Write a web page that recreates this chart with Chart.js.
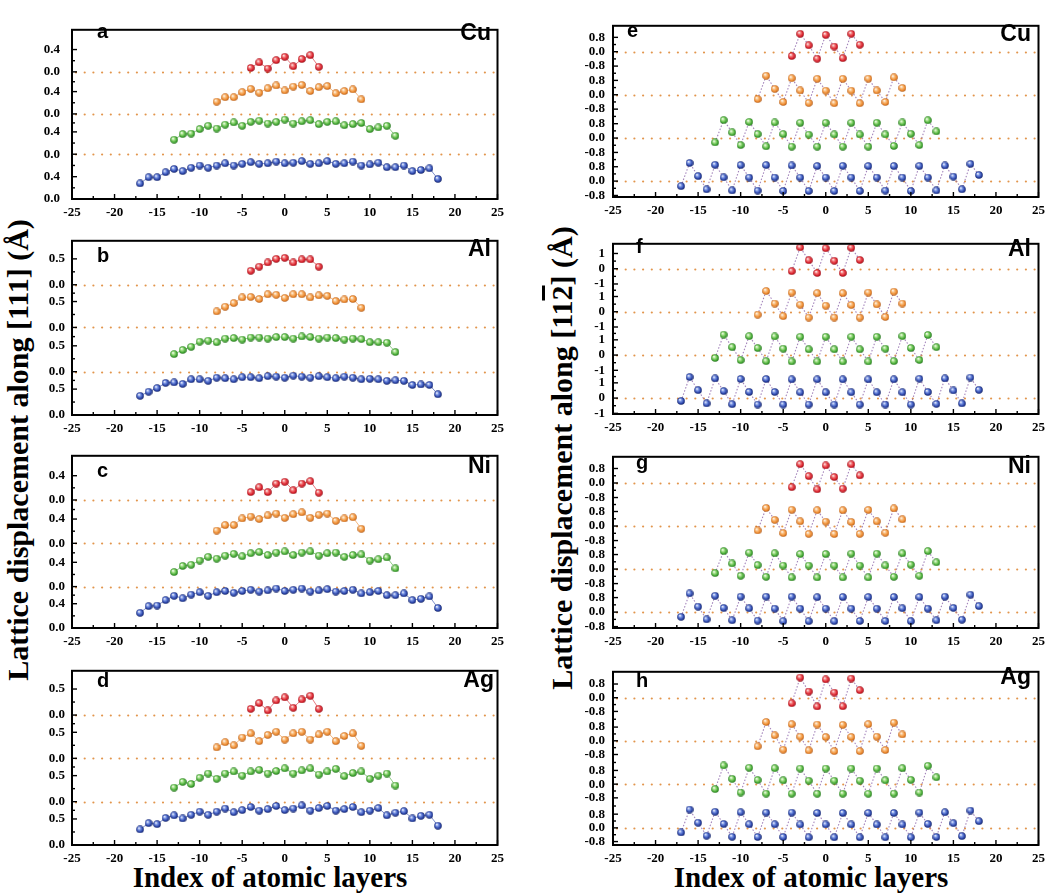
<!DOCTYPE html>
<html><head><meta charset="utf-8">
<script src="https://cdn.jsdelivr.net/npm/chart.js@4.4.1/dist/chart.umd.min.js"></script>
<style>
body{margin:0;background:#fff;}
#wrap{position:relative;width:1054px;height:895px;overflow:hidden;background:#fff;}
#wrap canvas{position:absolute;}
.t{position:absolute;font-family:"Liberation Serif","Times New Roman",serif;font-weight:bold;color:#000;white-space:nowrap;line-height:1;}
.lab{position:absolute;font-family:"Liberation Sans",Arial,sans-serif;font-weight:bold;color:#000;white-space:nowrap;line-height:1;}
</style></head><body><div id="wrap">
<div class="t" style="font-size:30px;left:18px;top:450px;transform:translate(-50%,-50%) rotate(-90deg);">Lattice displacement along [111] (Å)</div>
<div class="t" style="font-size:30px;left:562px;top:458px;transform:translate(-50%,-50%) rotate(-90deg);">Lattice displacement along [11<span style="text-decoration:overline">2</span>] (Å)</div>
<div class="t" style="font-size:29px;left:270px;top:863px;transform:translateX(-50%);">Index of atomic layers</div>
<div class="t" style="font-size:29px;left:811px;top:863px;transform:translateX(-50%);">Index of atomic layers</div>
</div>
<script>
// ---- categories (index of atomic layers) ----
const layersRed = [-4,-3,-2,-1,0,1,2,3,4];
const layersOrange = [-8,-7,-6,-5,-4,-3,-2,-1,0,1,2,3,4,5,6,7,8,9];
const layersGreen = [-13,-12,-11,-10,-9,-8,-7,-6,-5,-4,-3,-2,-1,0,1,2,3,4,5,6,7,8,9,10,11,12,13];
const layersBlue = [-17,-16,-15,-14,-13,-12,-11,-10,-9,-8,-7,-6,-5,-4,-3,-2,-1,0,1,2,3,4,5,6,7,8,9,10,11,12,13,14,15,16,17,18];

// ---- [111] displacements (Å) ----
const cu111Blue = [0.28,0.39,0.39,0.48,0.54,0.50,0.56,0.60,0.56,0.60,0.64,0.60,0.63,0.66,0.63,0.64,0.67,0.64,0.65,0.68,0.63,0.64,0.68,0.63,0.64,0.67,0.60,0.62,0.65,0.57,0.57,0.60,0.50,0.52,0.55,0.36];
const cu111Green = [0.26,0.36,0.37,0.45,0.51,0.46,0.53,0.57,0.51,0.58,0.60,0.55,0.58,0.62,0.55,0.59,0.61,0.54,0.58,0.59,0.52,0.54,0.56,0.45,0.48,0.51,0.33];
const cu111Orange = [0.22,0.30,0.30,0.39,0.45,0.38,0.46,0.51,0.42,0.49,0.52,0.41,0.48,0.50,0.37,0.41,0.44,0.26];
const cu111Red = [0.07,0.17,0.06,0.21,0.27,0.10,0.23,0.30,0.09];

const al111Blue = [0.37,0.45,0.52,0.62,0.63,0.60,0.69,0.69,0.66,0.72,0.71,0.69,0.73,0.73,0.71,0.75,0.74,0.72,0.76,0.74,0.72,0.75,0.73,0.71,0.74,0.72,0.69,0.70,0.69,0.66,0.67,0.66,0.58,0.59,0.58,0.40];
const al111Green = [0.34,0.42,0.48,0.58,0.60,0.57,0.64,0.65,0.62,0.66,0.66,0.64,0.67,0.67,0.64,0.68,0.67,0.64,0.66,0.65,0.62,0.64,0.63,0.57,0.57,0.56,0.38];
const al111Orange = [0.31,0.40,0.47,0.58,0.59,0.55,0.64,0.63,0.57,0.64,0.64,0.58,0.62,0.61,0.51,0.54,0.55,0.38];
const al111Red = [0.27,0.35,0.43,0.50,0.52,0.43,0.49,0.49,0.35];

const ni111Blue = [0.25,0.36,0.37,0.46,0.53,0.49,0.55,0.59,0.53,0.59,0.61,0.58,0.61,0.63,0.60,0.62,0.65,0.61,0.63,0.65,0.60,0.62,0.64,0.60,0.61,0.63,0.57,0.59,0.61,0.54,0.54,0.57,0.46,0.48,0.52,0.33];
const ni111Green = [0.24,0.34,0.36,0.43,0.49,0.46,0.51,0.54,0.50,0.55,0.57,0.52,0.56,0.58,0.52,0.56,0.58,0.51,0.55,0.56,0.49,0.52,0.53,0.43,0.45,0.48,0.30];
const ni111Orange = [0.21,0.30,0.30,0.41,0.44,0.40,0.46,0.49,0.42,0.48,0.51,0.42,0.47,0.49,0.37,0.41,0.43,0.24];
const ni111Red = [0.13,0.21,0.13,0.27,0.30,0.16,0.27,0.31,0.12];

const ag111Blue = [0.30,0.42,0.40,0.52,0.57,0.51,0.58,0.64,0.58,0.64,0.70,0.63,0.67,0.73,0.66,0.69,0.75,0.67,0.70,0.76,0.66,0.71,0.75,0.66,0.69,0.73,0.63,0.66,0.71,0.57,0.62,0.65,0.51,0.56,0.58,0.37];
const ag111Green = [0.27,0.38,0.34,0.46,0.54,0.44,0.54,0.58,0.50,0.58,0.61,0.54,0.59,0.64,0.54,0.60,0.64,0.52,0.58,0.63,0.49,0.55,0.58,0.44,0.50,0.54,0.31];
const ag111Orange = [0.21,0.31,0.25,0.40,0.48,0.33,0.45,0.51,0.36,0.48,0.51,0.36,0.46,0.51,0.33,0.43,0.48,0.24];
const ag111Red = [0.12,0.23,0.09,0.28,0.34,0.14,0.30,0.37,0.12];

// ---- [11-2] displacements (Å) ----
const cu112Blue = [-0.28,1.01,0.28,-0.46,0.91,0.21,-0.52,0.89,0.20,-0.53,0.89,0.20,-0.55,0.87,0.20,-0.55,0.84,0.20,-0.55,0.85,0.20,-0.55,0.84,0.20,-0.53,0.84,0.20,-0.55,0.85,0.20,-0.52,0.87,0.25,-0.46,0.96,0.34];
const cu112Green = [-0.24,1.00,0.32,-0.39,0.90,0.22,-0.46,0.87,0.22,-0.48,0.85,0.19,-0.48,0.85,0.20,-0.48,0.85,0.20,-0.48,0.85,0.20,-0.44,0.87,0.24,-0.39,0.99,0.37];
const cu112Orange = [-0.24,1.06,0.33,-0.40,0.92,0.24,-0.45,0.89,0.23,-0.47,0.89,0.23,-0.47,0.90,0.24,-0.40,0.97,0.38];
const cu112Red = [-0.24,1.00,0.36,-0.39,0.94,0.29,-0.36,1.00,0.39];

const al112Blue = [-0.19,1.38,0.52,-0.35,1.29,0.46,-0.40,1.25,0.40,-0.42,1.25,0.40,-0.42,1.23,0.38,-0.42,1.23,0.38,-0.42,1.23,0.38,-0.42,1.23,0.38,-0.42,1.23,0.38,-0.42,1.27,0.40,-0.38,1.29,0.50,-0.35,1.35,0.54];
const al112Green = [-0.19,1.34,0.52,-0.33,1.24,0.46,-0.40,1.22,0.42,-0.42,1.20,0.38,-0.42,1.20,0.38,-0.42,1.20,0.38,-0.42,1.20,0.42,-0.40,1.24,0.46,-0.32,1.32,0.52];
const al112Orange = [-0.19,1.36,0.54,-0.29,1.26,0.46,-0.38,1.22,0.40,-0.38,1.22,0.44,-0.38,1.26,0.48,-0.34,1.32,0.54];
const al112Red = [-0.16,1.40,0.56,-0.28,1.34,0.52,-0.28,1.38,0.58];

const ni112Blue = [-0.26,1.03,0.30,-0.40,0.90,0.23,-0.45,0.85,0.21,-0.47,0.85,0.19,-0.50,0.85,0.19,-0.50,0.82,0.19,-0.50,0.83,0.19,-0.49,0.83,0.19,-0.49,0.83,0.21,-0.50,0.83,0.19,-0.45,0.85,0.23,-0.42,0.96,0.33];
const ni112Green = [-0.22,0.99,0.31,-0.37,0.90,0.22,-0.43,0.87,0.19,-0.46,0.83,0.19,-0.46,0.83,0.19,-0.46,0.85,0.19,-0.46,0.85,0.20,-0.43,0.87,0.24,-0.37,0.99,0.37];
const ni112Orange = [-0.24,1.00,0.34,-0.39,0.90,0.26,-0.43,0.87,0.24,-0.44,0.87,0.22,-0.43,0.89,0.26,-0.37,0.97,0.37];
const ni112Red = [-0.23,1.04,0.38,-0.35,0.97,0.33,-0.31,1.03,0.42];

const ag112Blue = [-0.27,1.07,0.30,-0.46,0.94,0.23,-0.52,0.91,0.21,-0.53,0.89,0.21,-0.53,0.89,0.20,-0.55,0.87,0.20,-0.55,0.87,0.20,-0.55,0.87,0.20,-0.55,0.87,0.20,-0.55,0.89,0.23,-0.53,0.91,0.27,-0.48,1.01,0.39];
const ag112Green = [-0.29,1.09,0.31,-0.49,0.96,0.24,-0.55,0.93,0.22,-0.56,0.91,0.20,-0.56,0.91,0.20,-0.56,0.91,0.20,-0.56,0.91,0.22,-0.55,0.93,0.25,-0.49,1.07,0.40];
const ag112Orange = [-0.32,1.10,0.32,-0.52,0.97,0.24,-0.56,0.95,0.22,-0.60,0.93,0.22,-0.60,0.97,0.24,-0.54,1.06,0.37];
const ag112Red = [-0.32,1.18,0.36,-0.51,1.07,0.30,-0.50,1.12,0.44];

// ---- tick labels per band ----
const ticks04Vals = [0, 0.4];   const ticks04Labels = ['0.0','0.4'];
const ticks05Vals = [0, 0.5];   const ticks05Labels = ['0.0','0.5'];
const ticks08Vals = [-0.8, 0, 0.8]; const ticks08Labels = ['-0.8','0.0','0.8'];
const ticks1Vals = [-1, 0, 1];  const ticks1Labels = ['-1','0','1'];
const xTickStep = 5;

// ---- layout / style ----
const wrap = document.getElementById('wrap');
function ball(base, light, dark) {
  const c = document.createElement('canvas'); c.width = 8; c.height = 8;
  const g = c.getContext('2d');
  const gr = g.createRadialGradient(2.8, 2.6, 0.2, 4, 4, 4);
  gr.addColorStop(0, '#ffffff'); gr.addColorStop(0.3, light); gr.addColorStop(0.72, base); gr.addColorStop(1, dark);
  g.fillStyle = gr; g.beginPath(); g.arc(4, 4, 3.8, 0, Math.PI * 2); g.fill();
  return c;
}
const balls = {
  blue: ball('#2a44a8', '#7f9ae8', '#0f1d5c'),
  green: ball('#46aa36', '#a8e48c', '#1e6a16'),
  orange: ball('#ee8a2e', '#fac58a', '#a44e0e'),
  red: ball('#da1f2b', '#f48080', '#86080f')
};
const lineCols = {blue:'rgba(42,68,168,0.6)', green:'rgba(70,170,54,0.6)', orange:'rgba(238,138,46,0.6)', red:'rgba(218,31,43,0.6)'};

const panels = [
 {letter:'a', elem:'Cu', left:22, plotTop:14, plotH:185, yMin:0, yMax:3.033, offsets:[0,0.803,1.525,2.279], tv:ticks04Vals, tl:ticks04Labels, ypad:12, zig:false, sets:[cu111Blue,cu111Green,cu111Orange,cu111Red], lp:[97,38], ep:[491,40]},
 {letter:'b', elem:'Al', left:22, plotTop:230, plotH:185, yMin:0, yMax:3.364, offsets:[0,0.836,1.691,2.515], tv:ticks05Vals, tl:ticks05Labels, ypad:7, zig:false, sets:[al111Blue,al111Green,al111Orange,al111Red], lp:[97,262], ep:[491,256]},
 {letter:'c', elem:'Ni', left:22, plotTop:445, plotH:183, yMin:0, yMax:2.837, offsets:[0,0.682,1.395,2.109], tv:ticks04Vals, tl:ticks04Labels, ypad:7, zig:false, sets:[ni111Blue,ni111Green,ni111Orange,ni111Red], lp:[97,477], ep:[491,473]},
 {letter:'d', elem:'Ag', left:22, plotTop:660, plotH:185, yMin:0, yMax:3.345, offsets:[0,0.832,1.664,2.495], tv:ticks05Vals, tl:ticks05Labels, ypad:7, zig:false, sets:[ag111Blue,ag111Green,ag111Orange,ag111Red], lp:[97,687], ep:[494,687]},
 {letter:'e', elem:'Cu', left:563, plotTop:14, plotH:183, yMin:-0.885, yMax:8.646, offsets:[0,2.396,4.807,7.203], tv:ticks08Vals, tl:ticks08Labels, ypad:8, zig:true, sets:[cu112Blue,cu112Green,cu112Orange,cu112Red], lp:[627,37], ep:[1031,41]},
 {letter:'f', elem:'Al', left:563, plotTop:232, plotH:182, yMin:-1.043, yMax:10.12, offsets:[0,2.822,5.663,8.485], tv:ticks1Vals, tl:ticks1Labels, ypad:8, zig:true, sets:[al112Blue,al112Green,al112Orange,al112Red], lp:[636,253], ep:[1031,256]},
 {letter:'g', elem:'Ni', left:563, plotTop:445, plotH:183, yMin:-0.876, yMax:8.557, offsets:[0,2.371,4.742,7.113], tv:ticks08Vals, tl:ticks08Labels, ypad:8, zig:true, sets:[ni112Blue,ni112Green,ni112Orange,ni112Red], lp:[636,469], ep:[1031,473]},
 {letter:'h', elem:'Ag', left:563, plotTop:660, plotH:185, yMin:-1.0, yMax:9.109, offsets:[0,2.552,5.082,7.596], tv:ticks08Vals, tl:ticks08Labels, ypad:8, zig:true, sets:[ag112Blue,ag112Green,ag112Orange,ag112Red], lp:[636,687], ep:[1031,684]}
];
const seriesInfo = [
  {name:'blue', layers:layersBlue}, {name:'green', layers:layersGreen},
  {name:'orange', layers:layersOrange}, {name:'red', layers:layersRed}
];
const tickFont = {family:'"Liberation Serif","Times New Roman",serif', weight:'bold', size:13};

function framePlugin(refLines) {
  return {
    id:'frame',
    beforeDatasetsDraw(chart) {
      const {ctx, chartArea:a, scales:{y}} = chart;
      ctx.save();
      ctx.beginPath(); ctx.rect(a.left, a.top, a.right - a.left, a.bottom - a.top); ctx.clip();
      ctx.strokeStyle = '#e2954c'; ctx.lineWidth = 2.2; ctx.lineCap = 'round'; ctx.setLineDash([0, 8.7]);
      refLines.forEach(v => {
        const py = Math.round(y.getPixelForValue(v)) + 0.5;
        ctx.beginPath(); ctx.moveTo(a.left + 4, py); ctx.lineTo(a.right, py); ctx.stroke();
      });
      ctx.restore();
    },
    afterDraw(chart) {
      const {ctx, chartArea:a, scales:{x, y}} = chart;
      ctx.save();
      ctx.strokeStyle = '#000'; ctx.lineWidth = 1.4;
      const xv = x.ticks.map(t => t.value);
      const xt = (px, len) => { ctx.beginPath(); ctx.moveTo(px, a.bottom); ctx.lineTo(px, a.bottom - len); ctx.stroke(); };
      xv.forEach((v, i) => {
        xt(x.getPixelForValue(v), 5);
        if (i < xv.length - 1) xt(x.getPixelForValue((v + xv[i + 1]) / 2), 3);
      });
      const yv = y.ticks.map(t => t.value);
      const yt = (py, len) => { ctx.beginPath(); ctx.moveTo(a.left, py); ctx.lineTo(a.left + len, py); ctx.stroke(); };
      yv.forEach((v, i) => {
        yt(y.getPixelForValue(v), 5);
        if (i < yv.length - 1) yt(y.getPixelForValue((v + yv[i + 1]) / 2), 3);
      });
      ctx.lineWidth = 2;
      ctx.strokeRect(a.left, a.top, a.right - a.left, a.bottom - a.top);
      ctx.restore();
    }
  };
}

panels.forEach(p => {
  const cv = document.createElement('canvas');
  const W = 50 + 434 + 4, H = 4 + p.plotH + 28;
  cv.width = W; cv.height = H;
  cv.style.left = p.left + 'px'; cv.style.top = (p.plotTop - 4) + 'px';
  wrap.appendChild(cv);

  const tickVals = [], tickLabels = [];
  p.offsets.forEach(o => p.tv.forEach((v, j) => { tickVals.push(o + v); tickLabels.push(p.tl[j]); }));

  const datasets = seriesInfo.map((s, k) => ({
    data: s.layers.map((xv, i) => ({x: xv, y: p.sets[k][i] + p.offsets[k]})),
    showLine: true,
    borderColor: p.zig ? 'rgba(140,100,170,0.8)' : lineCols[s.name],
    borderWidth: p.zig ? 1.1 : 1,
    borderDash: p.zig ? [1.5, 1.8] : [],
    pointStyle: balls[s.name],
    pointRadius: 4,
    pointHoverRadius: 4
  }));
  const refLines = p.zig ? p.offsets.slice() : p.offsets.slice(1);

  new Chart(cv, {
    type: 'scatter',
    data: {datasets},
    options: {
      responsive: false, animation: false, events: [],
      layout: {padding: {top: 4, right: 4, left: 0, bottom: 0}},
      plugins: {legend: {display: false}, tooltip: {enabled: false}},
      scales: {
        x: {
          type: 'linear', min: -25, max: 25,
          ticks: {stepSize: xTickStep, color: '#000', font: tickFont, padding: 6, maxRotation: 0, autoSkip: false},
          grid: {display: false, drawTicks: false}, border: {display: false},
          afterFit: s => { s.height = 28; }
        },
        y: {
          type: 'linear', min: p.yMin, max: p.yMax,
          afterBuildTicks: s => { s.ticks = tickVals.map(v => ({value: v})); },
          ticks: {autoSkip: false, color: '#000', font: tickFont, padding: p.ypad, callback: (v, i) => tickLabels[i]},
          grid: {display: false, drawTicks: false}, border: {display: false},
          afterFit: s => { s.width = 50; }
        }
      }
    },
    plugins: [framePlugin(refLines)]
  });

  const l = document.createElement('div');
  l.className = 'lab'; l.textContent = p.letter;
  l.style.fontSize = '20px'; l.style.left = p.lp[0] + 'px'; l.style.top = (p.lp[1] - 16.9) + 'px';
  wrap.appendChild(l);
  const e = document.createElement('div');
  e.className = 'lab'; e.textContent = p.elem;
  e.style.fontSize = '23px'; e.style.left = p.ep[0] + 'px'; e.style.top = (p.ep[1] - 19.5) + 'px';
  e.style.transform = 'translateX(-100%)';
  wrap.appendChild(e);
});
</script>
</body></html>
